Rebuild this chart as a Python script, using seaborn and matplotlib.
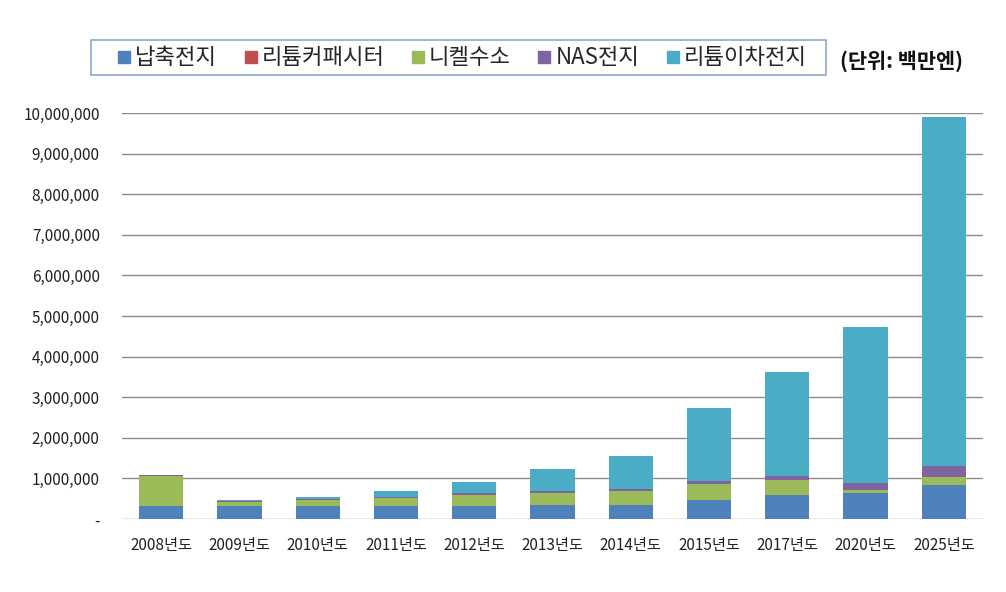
import matplotlib
matplotlib.use("Agg")
import matplotlib.pyplot as plt
import seaborn as sns
import numpy as np
import pandas as pd
from matplotlib.lines import Line2D
from matplotlib.patches import Rectangle
from matplotlib.ticker import FuncFormatter, MultipleLocator

sns.set_theme(style="white")
plt.rcParams['font.family'] = ['Noto Sans CJK KR', 'DejaVu Sans']

categories = ["2008년도", "2009년도", "2010년도", "2011년도", "2012년도", "2013년도",
              "2014년도", "2015년도", "2017년도", "2020년도", "2025년도"]
series_names = ["납축전지", "리튬커패시터", "니켈수소", "NAS전지", "리튬이차전지"]
lead_acid = [310000, 330000, 330000, 330000, 330000, 340000, 340000, 480000, 580000, 635000, 830000]
li_capacitor = [0, 0, 0, 0, 0, 0, 0, 0, 0, 5000, 10000]
ni_mh = [750000, 100000, 150000, 190000, 270000, 305000, 345000, 380000, 390000, 85000, 185000]
nas = [15000, 15000, 15000, 30000, 40000, 45000, 55000, 80000, 95000, 155000, 280000]
li_ion = [5000, 35000, 55000, 145000, 280000, 530000, 800000, 1790000, 2550000, 3850000, 8600000]
colors = ["#4F81BD", "#C0504D", "#9BBB59", "#8064A2", "#4BACC6"]

series = [lead_acid, li_capacitor, ni_mh, nas, li_ion]
cum = np.cumsum(np.array(series), axis=0)

fig = plt.figure(figsize=(10.06, 5.92), dpi=100)
ax = fig.add_axes([122/1006, 1-519/592, (983-122)/1006, (519-113)/592])

for i in range(len(series) - 1, -1, -1):
    df = pd.DataFrame({"cat": categories, "val": cum[i]})
    sns.barplot(data=df, x="cat", y="val", color=colors[i], width=0.565,
                saturation=1, ax=ax, zorder=3, linewidth=0)

ax.set_ylim(0, 10000000)
ax.set_xlim(-0.5, len(categories) - 0.5)
ax.yaxis.set_major_locator(MultipleLocator(1000000))
ax.yaxis.set_major_formatter(FuncFormatter(lambda v, p: "-" if v == 0 else f"{int(v):,}"))
ax.grid(axis="y", color="#8C8C8C", linewidth=1)
ax.set_axisbelow(True)
for s in ax.spines.values():
    s.set_visible(False)
ax.set_xlabel("")
ax.set_ylabel("")
ax.tick_params(axis="y", labelsize=11, colors="#222222", pad=16, length=0)
ax.tick_params(axis="x", labelsize=11, colors="#222222", pad=13, length=0)

# legend frame box
fig.patches.append(Rectangle((91/1006, 1-75/592), (826-91)/1006, 35/592,
                             transform=fig.transFigure, fill=False,
                             edgecolor="#8EA9C8", linewidth=1.2))

handles = [Line2D([0], [0], marker="s", linestyle="none", markersize=9,
                  markerfacecolor=c, markeredgecolor=c) for c in colors]
leg = fig.legend(handles, series_names, loc="center", ncol=5,
                 bbox_to_anchor=(461/1006, 1-58/592),
                 frameon=False, fontsize=16, handletextpad=0.1, columnspacing=1.1,
                 borderpad=0.0, handlelength=0.8, borderaxespad=0)

fig.text(901/1006, 1-61/592, "(단위: 백만엔)", ha="center", va="center",
         fontsize=15, fontweight="bold", color="#111111")

fig.savefig("out.png", dpi=100, facecolor="white")
